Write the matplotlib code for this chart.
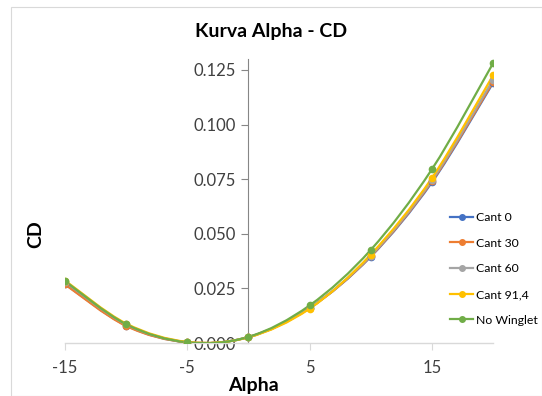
import matplotlib
matplotlib.use("Agg")
import matplotlib.pyplot as plt
from matplotlib.path import Path
from matplotlib.patches import PathPatch, Rectangle
from matplotlib.lines import Line2D
import numpy as np

plt.rcParams['font.family'] = ['Lato', 'DejaVu Sans']

alpha = [-15, -10, -5, 0, 5, 10, 15, 20]
cant0 = [0.0270, 0.0080, 0.0003, 0.0027, 0.0160, 0.0395, 0.0735, 0.1190]
cant30 = [0.0268, 0.0078, 0.0003, 0.0027, 0.0160, 0.0397, 0.0740, 0.1195]
cant60 = [0.0280, 0.0085, 0.0004, 0.0027, 0.0161, 0.0400, 0.0745, 0.1205]
cant914 = [0.0286, 0.0089, 0.0005, 0.0026, 0.0157, 0.0405, 0.0755, 0.1225]
nowinglet = [0.0283, 0.0086, 0.0003, 0.0028, 0.0172, 0.0426, 0.0795, 0.1280]

series = [
    ("Cant 0", cant0, "#4472C4"),
    ("Cant 30", cant30, "#ED7D31"),
    ("Cant 60", cant60, "#A5A5A5"),
    ("Cant 91,4", cant914, "#FFC000"),
    ("No Winglet", nowinglet, "#70AD47"),
]

title = "Kurva Alpha - CD"
xlabel = "Alpha"
ylabel = "CD"
xticks = [-15, -5, 5, 15]
yticks = [0.0, 0.025, 0.05, 0.075, 0.1, 0.125]


def smooth_path(x, y):
    pts = np.column_stack([x, y]).astype(float)
    n = len(pts)
    verts = [pts[0]]
    codes = [Path.MOVETO]
    for i in range(n - 1):
        p0 = pts[i - 1] if i > 0 else pts[i]
        p1 = pts[i]
        p2 = pts[i + 1]
        p3 = pts[i + 2] if i + 2 < n else pts[i + 1]
        c1 = p1 + (p2 - p0) / 6.0
        c2 = p2 - (p3 - p1) / 6.0
        verts += [c1, c2, p2]
        codes += [Path.CURVE4] * 3
    return Path(verts, codes)


fig = plt.figure(figsize=(5.42, 3.96), dpi=100)
fig.patches.append(Rectangle((11 / 542, 0), 1 - 11 / 542, 1 - 7 / 396, transform=fig.transFigure,
                             fill=False, edgecolor="#d9d9d9", linewidth=0.8))
ax = fig.add_axes([65 / 542, 53 / 396, 428 / 542, 284 / 396])
ax.set_xlim(-15, 20)
ax.set_ylim(0, 0.13)

for label, vals, color in series:
    ax.add_patch(PathPatch(smooth_path(alpha, vals), fill=False, edgecolor=color,
                           linewidth=1.6, zorder=3))
    ax.plot(alpha, vals, linestyle="none", marker="o", markersize=4.5, color=color, zorder=4)

ax.spines['top'].set_visible(False)
ax.spines['right'].set_visible(False)
ax.spines['left'].set_position(('data', 0))
ax.spines['left'].set_color("#868686")
ax.spines['bottom'].set_color("#d9d9d9")
ax.spines['bottom'].set_linewidth(1.0)
ax.set_xticks(xticks)
ax.set_xticklabels([str(t) for t in xticks])
ax.set_yticks(yticks)
ax.set_yticklabels([f"{t:.3f}" for t in yticks])
ax.tick_params(axis='x', colors="#d9d9d9", labelcolor="#404040", labelsize=12, length=5, pad=7)
ax.tick_params(axis='y', colors="#868686", labelcolor="#404040", labelsize=12, length=5, pad=4)

fig.text(0.5, 1 - 32 / 396, title, ha='center', va='center', fontsize=14, fontweight='bold', color='#000000')
fig.text(253 / 542, 1 - 386 / 396, xlabel, ha='center', va='center', fontsize=14, fontweight='bold', color='#000000')
fig.text(36 / 542, 1 - 234 / 396, ylabel, ha='center', va='center', fontsize=14, fontweight='bold',
         rotation=90, color='#000000')

handles = [Line2D([0], [0], color=c, marker='o', markersize=4, linewidth=1.6) for _, _, c in series]
fig.legend(handles, [s[0] for s in series], loc='upper left', bbox_to_anchor=(450 / 542, 1 - 212 / 396),
           frameon=False, fontsize=8.8, handlelength=1.9, handletextpad=0.2, labelspacing=1.2,
           borderaxespad=0, borderpad=0)

fig.savefig("out.png", dpi=100)
